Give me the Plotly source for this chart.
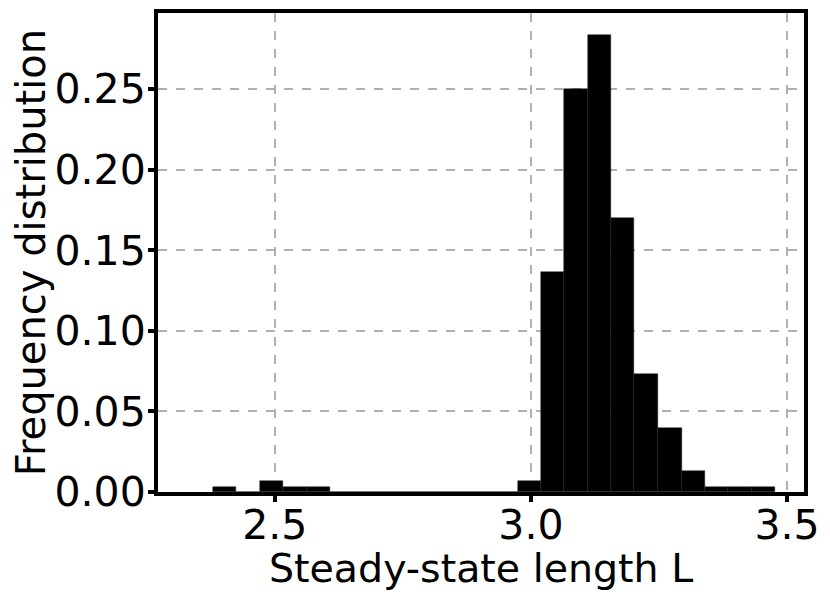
import numpy as np
import plotly.graph_objects as go

# --- histogram of steady-state lengths ---
bin_edges = [2.379, 2.425, 2.471, 2.516, 2.562, 2.608, 2.653, 2.699, 2.745,
             2.791, 2.836, 2.882, 2.928, 2.974, 3.019, 3.065, 3.111, 3.157,
             3.202, 3.248, 3.294, 3.339, 3.385, 3.431, 3.477]
frequency = [0.0033, 0.0, 0.0067, 0.0033, 0.0033, 0.0, 0.0, 0.0, 0.0,
             0.0, 0.0, 0.0, 0.0, 0.0067, 0.1367, 0.25, 0.2833, 0.17,
             0.0733, 0.04, 0.0133, 0.0033, 0.0033, 0.0033]
x_ticks = [2.5, 3.0, 3.5]
x_tick_labels = ['2.5', '3.0', '3.5']
y_ticks = [0.0, 0.05, 0.10, 0.15, 0.20, 0.25]
y_tick_labels = ['0.00', '0.05', '0.10', '0.15', '0.20', '0.25']

edges = np.array(bin_edges)
centers = (edges[:-1] + edges[1:]) / 2
widths = np.diff(edges)

FONT = 'DejaVu Sans'

fig = go.Figure()
fig.add_trace(go.Bar(
    x=centers, y=frequency, width=widths,
    marker=dict(color='black', line=dict(color='rgb(35,35,35)', width=0.5)),
    showlegend=False))

axis_common = dict(
    showline=True, linewidth=4, linecolor='black', mirror=True,
    ticks='outside', ticklen=6, tickwidth=4, tickcolor='black',
    showgrid=True, gridcolor='#b0b0b0', gridwidth=1.5, griddash='dash',
    zeroline=False, automargin=False,
    tickfont=dict(family=FONT, size=41, color='black'),
)

# the page body adds an 8px offset, so the figure is 8px smaller than the window
fig.update_layout(
    width=822, height=595,
    margin=dict(l=150, r=26, t=5, b=111),
    paper_bgcolor='white', plot_bgcolor='white',
    bargap=0,
    xaxis=dict(range=[2.272, 3.533], tickvals=x_ticks, ticktext=x_tick_labels,
               ticklabelstandoff=-12, **axis_common),
    yaxis=dict(range=[0, 0.2971], tickvals=y_ticks, ticktext=y_tick_labels,
               ticklabelstandoff=-6,
               title=dict(text='Frequency distribution',
                          font=dict(family=FONT, size=40, color='black')),
               **axis_common),
)

# x title as an annotation so it sits a bit closer to the tick labels
fig.add_annotation(text='Steady-state length L', xref='paper', yref='paper',
                   x=0.5, y=-0.158, xanchor='center', yanchor='middle',
                   showarrow=False,
                   font=dict(family=FONT, size=39.5, color='black'))

fig.write_html('out.html')
